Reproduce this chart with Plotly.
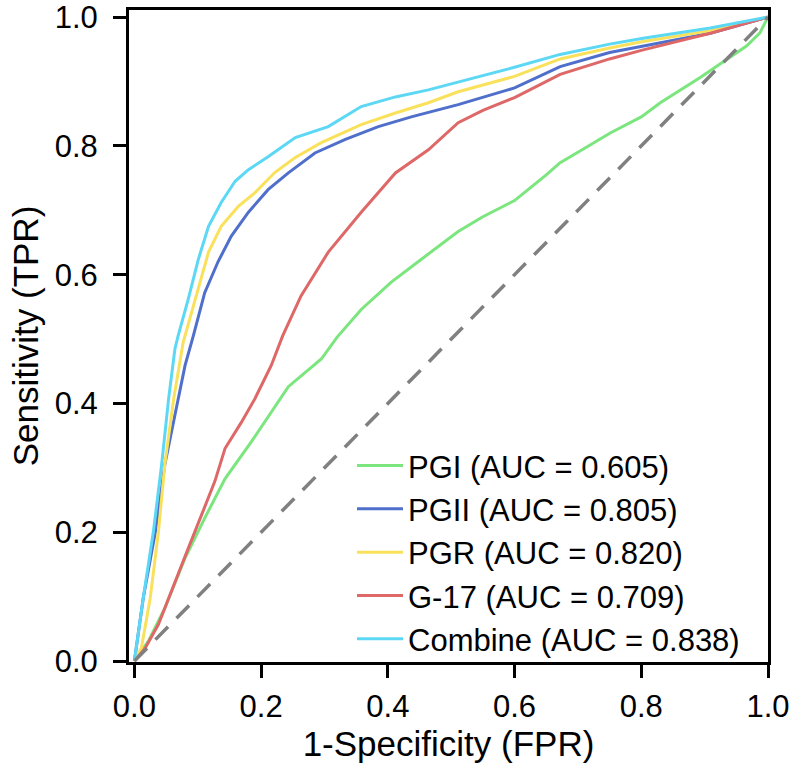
import plotly.graph_objects as go

# ---- data ----
PGI_X = [0, 0.022, 0.048, 0.080, 0.111, 0.143, 0.185, 0.216, 0.243, 0.295, 0.32, 0.358, 0.405, 0.453,
         0.511, 0.55, 0.6, 0.65, 0.672, 0.7, 0.751, 0.8, 0.83, 0.893, 0.945, 0.966, 0.987, 0.997, 1.0]
PGI_Y = [0, 0.031, 0.082, 0.160, 0.222, 0.283, 0.341, 0.387, 0.426, 0.469, 0.503, 0.546, 0.588, 0.624,
         0.667, 0.69, 0.715, 0.755, 0.774, 0.79, 0.82, 0.845, 0.867, 0.906, 0.94, 0.955, 0.975, 0.995, 1.0]

PGII_X = [0, 0.014, 0.033, 0.048, 0.064, 0.080, 0.093, 0.111, 0.132, 0.153, 0.180, 0.211, 0.243, 0.285,
          0.333, 0.385, 0.437, 0.511, 0.6, 0.672, 0.75, 0.803, 0.909, 1.0]
PGII_Y = [0, 0.098, 0.20, 0.305, 0.382, 0.459, 0.505, 0.572, 0.620, 0.660, 0.697, 0.732, 0.758, 0.789,
          0.810, 0.830, 0.845, 0.864, 0.89, 0.923, 0.945, 0.955, 0.975, 1.0]

PGR_X = [0, 0.011, 0.025, 0.038, 0.048, 0.062, 0.077, 0.096, 0.117, 0.137, 0.164, 0.190, 0.222, 0.254,
         0.295, 0.358, 0.412, 0.464, 0.511, 0.6, 0.672, 0.75, 0.803, 0.909, 1.0]
PGR_Y = [0, 0.02, 0.098, 0.201, 0.305, 0.407, 0.495, 0.562, 0.635, 0.675, 0.706, 0.727, 0.759, 0.782,
         0.805, 0.833, 0.851, 0.867, 0.884, 0.908, 0.935, 0.952, 0.962, 0.979, 1.0]

G17_X = [0, 0.017, 0.038, 0.058, 0.085, 0.106, 0.127, 0.143, 0.169, 0.190, 0.216, 0.234, 0.263, 0.306,
         0.358, 0.412, 0.464, 0.511, 0.55, 0.6, 0.672, 0.75, 0.803, 0.909, 0.95, 1.0]
G17_Y = [0, 0.020, 0.057, 0.108, 0.175, 0.227, 0.279, 0.330, 0.371, 0.407, 0.459, 0.505, 0.567, 0.635,
         0.697, 0.758, 0.794, 0.836, 0.855, 0.875, 0.911, 0.935, 0.949, 0.975, 0.986, 1.0]

COMB_X = [0, 0.014, 0.030, 0.043, 0.054, 0.064, 0.069, 0.085, 0.101, 0.117, 0.137, 0.159, 0.180, 0.211,
          0.254, 0.306, 0.358, 0.412, 0.464, 0.511, 0.6, 0.672, 0.75, 0.803, 0.909, 1.0]
COMB_Y = [0, 0.098, 0.201, 0.305, 0.407, 0.485, 0.505, 0.562, 0.624, 0.675, 0.712, 0.745, 0.763, 0.783,
          0.813, 0.830, 0.861, 0.876, 0.887, 0.899, 0.922, 0.942, 0.958, 0.967, 0.983, 1.0]

DIAG_X = [0, 1]
DIAG_Y = [0, 1]

NAMES = ["PGI (AUC = 0.605)", "PGII (AUC = 0.805)", "PGR (AUC = 0.820)",
         "G-17 (AUC = 0.709)", "Combine (AUC = 0.838)"]
COLORS = ["#7BE67E", "#4F6FCB", "#F9E15C", "#DE6868", "#5CD8F4"]
X_TICKS = [0.0, 0.2, 0.4, 0.6, 0.8, 1.0]
Y_TICKS = [0.0, 0.2, 0.4, 0.6, 0.8, 1.0]
TICK_TEXT = ["0.0", "0.2", "0.4", "0.6", "0.8", "1.0"]

FONT = "Liberation Sans, Arial, Helvetica, sans-serif"

fig = go.Figure()
series = [(PGI_X, PGI_Y), (PGII_X, PGII_Y), (PGR_X, PGR_Y), (G17_X, G17_Y), (COMB_X, COMB_Y)]
for (xs, ys), name, col in zip(series, NAMES, COLORS):
    fig.add_trace(go.Scatter(x=xs, y=ys, mode="lines", name=name,
                             line=dict(color=col, width=3)))

fig.add_trace(go.Scatter(x=DIAG_X, y=DIAG_Y, mode="lines", showlegend=False,
                         line=dict(color="#808080", width=3.5, dash="18px,12px")))

axis_common = dict(showline=True, linewidth=3, linecolor="black", mirror=True,
                   ticks="outside", ticklen=13, tickwidth=3, tickcolor="black",
                   showgrid=False, zeroline=False, ticklabeloverflow="allow",
                   tickfont=dict(family=FONT, size=31, color="black"))

fig.update_xaxes(range=[-0.0085, 1.0], tickvals=X_TICKS, ticktext=TICK_TEXT,
                 ticklabelstandoff=2,
                 title=dict(text="1-Specificity (FPR)", font=dict(family=FONT, size=35, color="black"),
                            standoff=6),
                 **axis_common)
fig.update_yaxes(range=[-0.0015, 1.011], tickvals=Y_TICKS, ticktext=TICK_TEXT,
                 ticklabelstandoff=9,
                 title=dict(text="Sensitivity (TPR)", font=dict(family=FONT, size=35, color="black"),
                            standoff=6),
                 **axis_common)

fig.update_layout(
    width=794, height=774,
    margin=dict(l=129, r=26, t=10, b=112, autoexpand=False),
    plot_bgcolor="white", paper_bgcolor="white",
    font=dict(family=FONT, color="black"),
    legend=dict(x=0.349, y=-0.006, xanchor="left", yanchor="bottom",
                bgcolor="rgba(0,0,0,0)", borderwidth=0,
                font=dict(family=FONT, size=31, color="black"),
                tracegroupgap=0, itemwidth=46),
)

fig.write_html("out.html")
